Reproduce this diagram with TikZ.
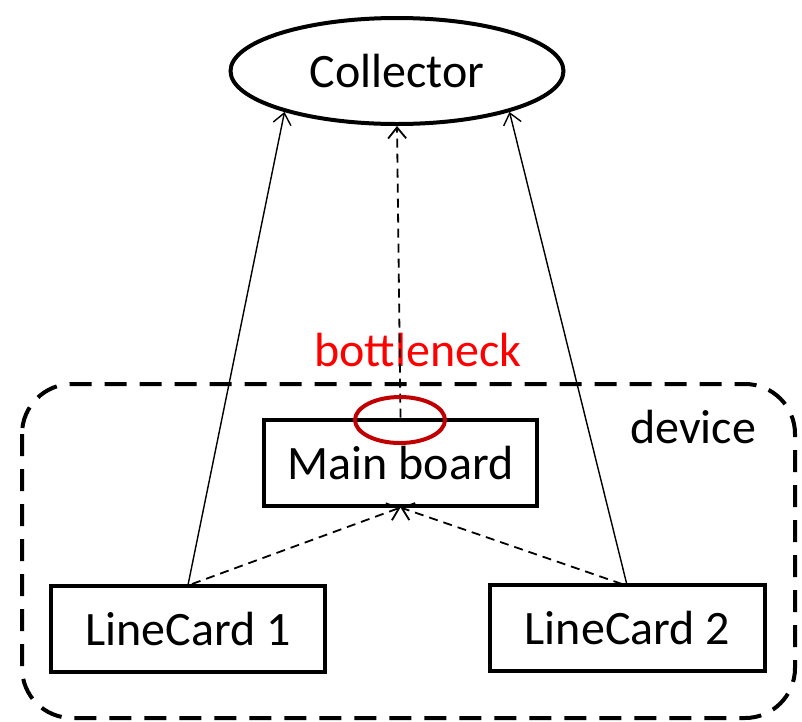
\documentclass[tikz,border=0pt]{standalone}
\usepackage{fontspec}
\setmainfont{Carlito}
\usetikzlibrary{arrows.meta,shapes.geometric}
\definecolor{darkred}{RGB}{192,0,0}
\tikzset{
  txt/.style={font=\fontsize{48}{56}\selectfont},
  box/.style={draw, line width=4pt, minimum width=#1, minimum height=86pt, inner sep=0pt, txt},
  arr/.style={-{Straight Barb[length=11pt,width=18pt]}, line width=1.4pt},
  darr/.style={arr, line width=1.8pt, dash pattern=on 9pt off 6pt},
}
\begin{document}
\begin{tikzpicture}[x=1pt,y=-1pt]
\useasboundingbox (0,0) rectangle (802,721);
% device container
\draw[line width=4pt, dash pattern=on 22pt off 13pt, rounded corners=50pt] (22,384) rectangle (795,718);
\node[txt, anchor=center] (device) at (693,427) {device};
% nodes
\node[draw, ellipse, line width=4pt, minimum width=333pt, minimum height=106pt, inner sep=0pt, txt] (col) at (397,71) {Collector};
\node[box=273pt] (mb) at (400.5,462.5) {Main board};
\node[box=274pt] (lc1) at (188,628.5) {LineCard 1};
\node[box=275pt] (lc2) at (627.5,627.5) {LineCard 2};
\node[txt, text=red] (bn) at (418,350) {bottleneck};
% connectors
\coordinate (lc1t) at (188,585);
\coordinate (lc2t) at (627,585);
\coordinate (lc1d) at (192,584);
\coordinate (lc2d) at (622,584);
\draw[arr] (lc1t) -- (col.{-160});
\draw[arr] (lc2t) -- (col.{-20});
\draw[darr] (mb.north) -- (col.south);
\draw[darr] (lc1d) -- (mb.south);
\draw[darr] (lc2d) -- (mb.south);
% bottleneck marker
\node[draw=darkred, ellipse, line width=4pt, minimum width=90pt, minimum height=46pt, inner sep=0pt] (neck) at (400,420) {};
\end{tikzpicture}
\end{document}
